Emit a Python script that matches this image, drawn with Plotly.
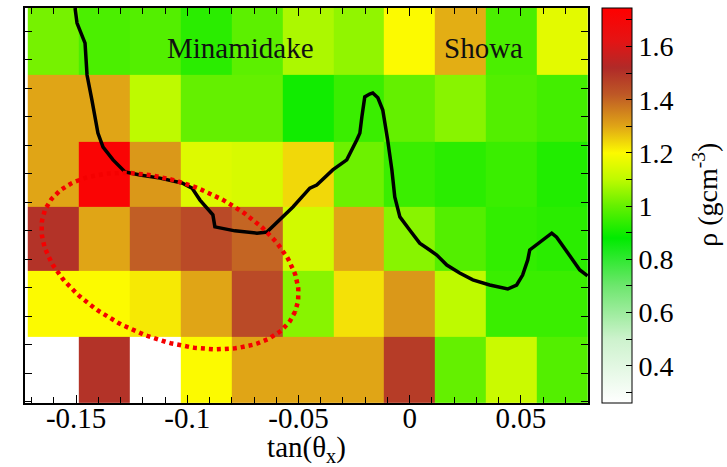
import numpy as np
import plotly.graph_objects as go

# ---- data ----
x_centers = [-0.1603, -0.1374, -0.1145, -0.0916, -0.0687, -0.0458, -0.0229, 0.0, 0.0229, 0.0458, 0.0687]
y_centers = [0.0111, 0.0343, 0.0571, 0.0797, 0.1029, 0.1264]

# density rows, bottom to top
row1 = [None, 1.50, None, 1.20, 1.30, 1.30, 1.30, 1.48, 1.00, 1.12, 0.98]
row2 = [1.20, 1.20, 1.22, 1.30, 1.45, 1.04, 1.23, 1.32, 1.10, 0.95, 0.95]
row3 = [1.50, 1.30, 1.41, 1.45, 1.40, 1.13, 1.30, 1.04, 0.98, 0.94, 0.93]
row4 = [1.30, 1.72, 1.32, 1.15, 1.14, 1.24, 1.01, 0.95, 0.93, 0.95, 0.92]
row5 = [1.30, 1.30, 1.10, 1.00, 1.00, 0.90, 0.95, 1.00, 1.04, 0.98, 0.96]
row6 = [1.02, 0.97, 0.98, 0.93, 0.99, 1.08, 1.05, 1.20, 1.29, 0.97, 1.16]

# outline curve (tan theta_x, tan theta_y)
curve_x = [-0.1505, -0.1496, -0.1460, -0.1451, -0.1429, -0.1402, -0.1379, -0.1334, -0.1280, -0.1213,
           -0.1123, -0.1024, -0.0979, -0.0943, -0.0885, -0.0876, -0.0786, -0.0687, -0.0642, -0.0584,
           -0.0525, -0.0449, -0.0418, -0.0346, -0.0314, -0.0283, -0.0238, -0.0224, -0.0215, -0.0202,
           -0.0180, -0.0166, -0.0143, -0.0121, -0.0099, -0.0080, -0.0067, -0.0044, 0.0000, 0.0045,
           0.0090, 0.0122, 0.0167, 0.0225, 0.0284, 0.0360, 0.0441, 0.0481, 0.0508, 0.0531,
           0.0540, 0.0598, 0.0639, 0.0661, 0.0720, 0.0765, 0.0800]
curve_y = [0.1381, 0.1328, 0.1258, 0.1146, 0.1058, 0.0942, 0.0893, 0.0848, 0.0806, 0.0795,
           0.0784, 0.0767, 0.0749, 0.0707, 0.0655, 0.0613, 0.0599, 0.0591, 0.0595, 0.0637,
           0.0683, 0.0749, 0.0760, 0.0813, 0.0830, 0.0848, 0.0918, 0.0942, 0.0999, 0.1069,
           0.1079, 0.1083, 0.1066, 0.1023, 0.0918, 0.0813, 0.0718, 0.0648, 0.0602, 0.0556,
           0.0532, 0.0514, 0.0479, 0.0451, 0.0427, 0.0409, 0.0395, 0.0409, 0.0444, 0.0497,
           0.0532, 0.0567, 0.0591, 0.0577, 0.0514, 0.0462, 0.0441]

x_tickvals = [-0.15, -0.1, -0.05, 0, 0.05]
x_ticktext = ["-0.15", "-0.1", "-0.05", "0", "0.05"]
cb_tickvals = [0.3, 0.4, 0.5, 0.6, 0.7, 0.8, 0.9, 1.0, 1.1, 1.2, 1.3, 1.4, 1.5, 1.6, 1.7]
cb_ticktext = ["", "0.4", "", "0.6", "", "0.8", "", "1", "", "1.2", "", "1.4", "", "1.6", ""]

labels = ["Minamidake", "Showa"]
label_x = [-0.0760, 0.0330]
label_y = [0.1240, 0.1240]

# ---- layout geometry ----
W, H = 727, 467
ML, MR, MT, MB = 25, 139, 8, 64
XR = [-0.173, 0.0802]
YR = [-0.0005, 0.1381]
ZMIN, ZMAX = 0.26, 1.745

z = [row1, row2, row3, row4, row5, row6]
z = [[np.nan if v is None else v for v in r] for r in z]

def n(v):
    return (v - ZMIN) / (ZMAX - ZMIN)

colorscale = [
    [0.0, "rgb(255,255,255)"],
    [n(0.5), "rgb(205,242,205)"],
    [n(0.7), "rgb(110,230,110)"],
    [n(0.88), "rgb(0,235,0)"],
    [n(1.0), "rgb(100,240,0)"],
    [n(1.1), "rgb(190,250,0)"],
    [n(1.2), "rgb(252,250,0)"],
    [n(1.3), "rgb(224,165,22)"],
    [n(1.42), "rgb(190,88,38)"],
    [n(1.52), "rgb(176,42,40)"],
    [n(1.62), "rgb(228,20,20)"],
    [1.0, "rgb(255,0,0)"],
]

pw = W - ML - MR
ph = H - MT - MB

fig = go.Figure()
fig.add_trace(go.Heatmap(
    x=x_centers, y=y_centers, z=z, zmin=ZMIN, zmax=ZMAX,
    colorscale=colorscale, hoverongaps=False,
    colorbar=dict(
        x=1.0 + (602 - 588) / pw, xanchor="left", xpad=0,
        y=0.5, yanchor="middle", len=1.0, lenmode="fraction", ypad=0,
        thickness=30, thicknessmode="pixels",
        outlinewidth=1, outlinecolor="black",
        tickmode="array", tickvals=cb_tickvals, ticktext=cb_ticktext,
        ticks="inside", ticklen=6, tickcolor="black",
        tickfont=dict(family="Liberation Serif", size=28, color="black"),
    ),
))

fig.add_trace(go.Scatter(
    x=curve_x, y=curve_y, mode="lines",
    line=dict(color="black", width=3.5), hoverinfo="skip", showlegend=False,
))

# dotted ellipse annotation (pixel-space parameters converted to data units)
px_per_x = pw / (XR[1] - XR[0])
px_per_y = ph / (YR[1] - YR[0])
ell_cx, ell_cy = -0.1078, 0.0493
ell_a, ell_b, ell_tilt = 135.0, 78.0, np.deg2rad(22.0)
t = np.linspace(0, 2 * np.pi, 241)
dx = ell_a * np.cos(t) * np.cos(ell_tilt) - ell_b * np.sin(t) * np.sin(ell_tilt)
dy = ell_a * np.cos(t) * np.sin(ell_tilt) + ell_b * np.sin(t) * np.cos(ell_tilt)
fig.add_trace(go.Scatter(
    x=ell_cx + dx / px_per_x, y=ell_cy - dy / px_per_y, mode="lines",
    line=dict(color="rgb(245,0,0)", width=4.5, dash="4px,4px"),
    hoverinfo="skip", showlegend=False,
))

for txt, lx, ly in zip(labels, label_x, label_y):
    fig.add_annotation(x=lx, y=ly, text=txt, showarrow=False,
                       font=dict(family="Liberation Serif", size=29, color="#111"),
                       xanchor="center", yanchor="middle")

fig.add_annotation(xref="paper", yref="paper",
                   x=1.0 + (706 - 588) / pw, y=0.527,
                   text="ρ (gcm<sup>-3</sup>)", textangle=-90, showarrow=False,
                   font=dict(family="Liberation Serif", size=28, color="black"),
                   xanchor="center", yanchor="middle")

fig.update_xaxes(
    range=XR, showline=True, linecolor="black", linewidth=1.5, mirror="allticks",
    ticks="inside", ticklen=8, tickcolor="black", tickwidth=1.2,
    tickmode="array", tickvals=x_tickvals, ticktext=x_ticktext,
    ticklabelstandoff=-12,
    minor=dict(dtick=0.01, tick0=0, ticks="inside", ticklen=6, tickcolor="black", showgrid=False),
    tickfont=dict(family="Liberation Serif", size=29, color="black"),
    title=dict(text="tan(θ<sub>x</sub>)", standoff=6,
               font=dict(family="Liberation Serif", size=29, color="black")),
    showgrid=False, zeroline=False,
)
fig.update_yaxes(
    range=YR, showline=True, linecolor="black", linewidth=1.5, mirror="allticks",
    ticks="inside", ticklen=7, tickcolor="black", tickwidth=1.2,
    dtick=0.01, tick0=0, showticklabels=False,
    showgrid=False, zeroline=False,
)
fig.update_layout(
    width=W, height=H, margin=dict(l=ML, r=MR, t=MT, b=MB, autoexpand=False),
    plot_bgcolor="white", paper_bgcolor="white", showlegend=False,
)
fig.write_html("out.html", config={"displayModeBar": False},
               post_script="document.body.style.margin='0';document.body.style.overflow='hidden';")
